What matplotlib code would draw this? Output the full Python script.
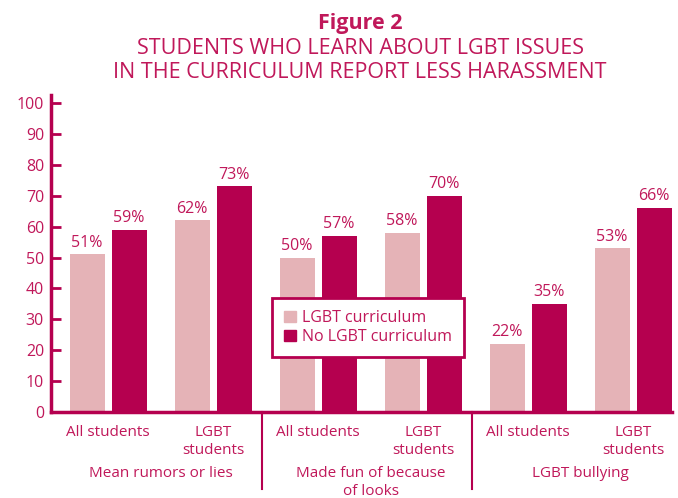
import matplotlib
matplotlib.use("Agg")
import matplotlib.pyplot as plt
import numpy as np
from matplotlib.patches import Patch

plt.rcParams['font.family'] = ['Open Sans', 'DejaVu Sans']

groups = ["Mean rumors or lies", "Made fun of because\nof looks", "LGBT bullying"]
subgroups = ["All students", "LGBT\nstudents"]
curriculum = [51, 62, 50, 58, 22, 53]
no_curriculum = [59, 73, 57, 70, 35, 66]
series_names = ["LGBT curriculum", "No LGBT curriculum"]
yticks = list(range(0, 101, 10))

DARK = "#B5004F"
LIGHT = "#E5B3B7"
TEXT = "#C0185A"

fig = plt.figure(figsize=(6.78, 4.98), dpi=100)
ax = fig.add_axes([51/678, 1-412/498, (672-51)/678, (412-95)/498])

x = np.arange(len(curriculum))
w = 0.333
off = 0.2
b1 = ax.bar(x - off, curriculum, w, color=LIGHT, zorder=2)
b2 = ax.bar(x + off, no_curriculum, w, color=DARK, zorder=2)

for rect, v in zip(list(b1) + list(b2), curriculum + no_curriculum):
    ax.text(rect.get_x() + rect.get_width()/2, v + 1.2, f"{v}%", ha="center",
            va="bottom", color=TEXT, fontsize=11.5)

ax.set_xlim(-0.543, 5.37)
ax.set_ylim(0, 102.6)
ax.set_yticks(yticks)
ax.set_yticklabels([str(t) for t in yticks], color=TEXT, fontsize=11.5)
ax.tick_params(axis='y', direction='in', length=7, width=2, color=DARK, pad=5)
ax.set_xticks([])
for s in ["top", "right"]:
    ax.spines[s].set_visible(False)
for s in ["left", "bottom"]:
    ax.spines[s].set_color(DARK)
    ax.spines[s].set_linewidth(2.5)

# subgroup labels
for i in range(len(curriculum)):
    ax.text(x[i], -4.3, subgroups[i % 2], ha="center", va="top", color=TEXT,
            fontsize=11, linespacing=1.25)
# group labels
for g, name in enumerate(groups):
    ax.text(2*g + 0.5, -17.5, name, ha="center", va="top", color=TEXT,
            fontsize=11, linespacing=1.25)
# dividers
for d in [1.5, 3.5]:
    ax.plot([d - 0.03, d - 0.03], [0, -25], color=DARK, lw=1.5, clip_on=False)

leg = ax.legend([Patch(color=LIGHT), Patch(color=DARK)], series_names,
                loc="upper left", bbox_to_anchor=((272-51)/621, (412-298)/317),
                frameon=True, fancybox=False, fontsize=11.5, handlelength=0.75,
                handleheight=0.75, handletextpad=0.4, borderpad=0.75,
                labelspacing=0.2, labelcolor=TEXT, borderaxespad=0)
leg.get_frame().set_edgecolor(DARK)
leg.get_frame().set_linewidth(2)
leg.get_frame().set_alpha(1)
leg.set_zorder(5)

fig.text(0.531, 1-24/498, "Figure 2", ha="center", va="center", color=TEXT,
         fontsize=15.5, fontweight="bold")
fig.text(0.531, 1-48/498, "STUDENTS WHO LEARN ABOUT LGBT ISSUES", ha="center",
         va="center", color=TEXT, fontsize=15.5)
fig.text(0.531, 1-72/498, "IN THE CURRICULUM REPORT LESS HARASSMENT", ha="center",
         va="center", color=TEXT, fontsize=15.5)

fig.savefig("out.png", dpi=100)
